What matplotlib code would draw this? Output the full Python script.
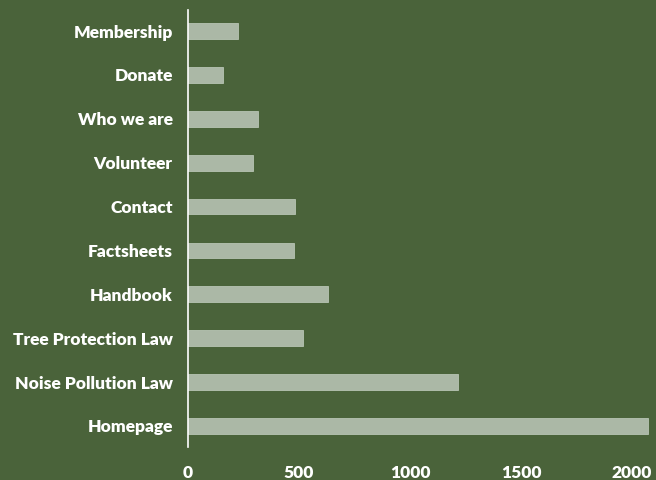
import matplotlib
matplotlib.use("Agg")
import matplotlib.pyplot as plt

pages = ["Homepage", "Noise Pollution Law", "Tree Protection Law", "Handbook",
         "Factsheets", "Contact", "Volunteer", "Who we are", "Donate", "Membership"]
views = [2072, 1215, 518, 630, 477, 482, 291, 315, 158, 225]
xticks = [0, 500, 1000, 1500, 2000]

bg = "#4a633a"
bar_col = "#abb8a6"

plt.rcParams['font.family'] = ['Lato', 'DejaVu Sans']

fig = plt.figure(figsize=(6.56, 4.8), dpi=100)
fig.patch.set_facecolor(bg)
ax = fig.add_axes([188/656, 33/480, (650-188)/656, (470-33)/480])
ax.set_facecolor(bg)

ax.barh(range(len(pages)), views, height=0.36, color=bar_col,
        edgecolor="#b8c4b3", linewidth=0.6)

ax.set_xlim(0, 2081)
ax.set_ylim(-0.48, len(pages) - 1 + 0.48)
ax.set_yticks(range(len(pages)))
ax.set_yticklabels(pages)
ax.set_xticks(xticks)
ax.set_xticklabels([str(t) for t in xticks])

for s in ["top", "right", "bottom"]:
    ax.spines[s].set_visible(False)
ax.spines["left"].set_color("white")
ax.spines["left"].set_linewidth(1.2)

ax.tick_params(axis="both", length=0, colors="white", labelsize=12.5)
ax.tick_params(axis="y", pad=11)
ax.tick_params(axis="x", pad=13)
for lbl in ax.get_xticklabels() + ax.get_yticklabels():
    lbl.set_fontweight("heavy")

fig.savefig("out.png", dpi=100, facecolor=bg)
